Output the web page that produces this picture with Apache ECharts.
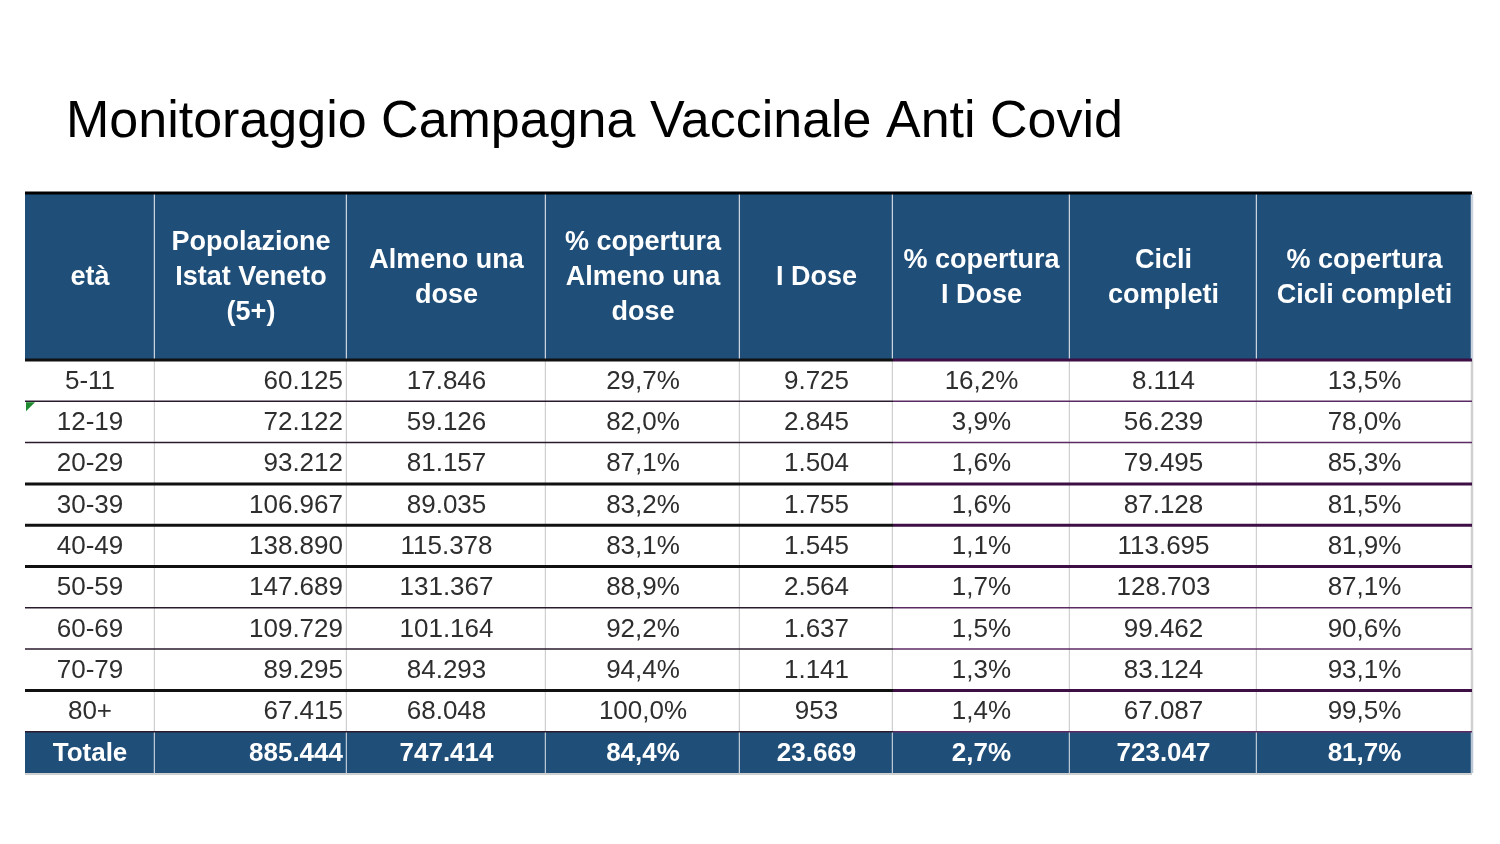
<!DOCTYPE html>
<html>
<head>
<meta charset="utf-8">
<script src="https://cdn.jsdelivr.net/npm/echarts@6/dist/echarts.min.js"></script>
<style>
html,body{margin:0;padding:0;background:#fff;}
#chart{width:1500px;height:844px;}
</style>
</head>
<body>
<div id="chart"></div>
<script>
// ---- DATA ----
const titleText = 'Monitoraggio Campagna Vaccinale Anti Covid';
const headers = [
  'età',
  'Popolazione\nIstat Veneto\n(5+)',
  'Almeno una\ndose',
  '% copertura\nAlmeno una\ndose',
  'I Dose',
  '% copertura\nI Dose',
  'Cicli\ncompleti',
  '% copertura\nCicli completi'
];
const ages = ['5-11', '12-19', '20-29', '30-39', '40-49', '50-59', '60-69', '70-79', '80+'];
const popolazione = [60125, 72122, 93212, 106967, 138890, 147689, 109729, 89295, 67415];
const almenoUnaDose = [17846, 59126, 81157, 89035, 115378, 131367, 101164, 84293, 68048];
const pctAlmenoUnaDose = [29.7, 82.0, 87.1, 83.2, 83.1, 88.9, 92.2, 94.4, 100.0];
const primaDose = [9725, 2845, 1504, 1755, 1545, 2564, 1637, 1141, 953];
const pctPrimaDose = [16.2, 3.9, 1.6, 1.6, 1.1, 1.7, 1.5, 1.3, 1.4];
const cicliCompleti = [8114, 56239, 79495, 87128, 113695, 128703, 99462, 83124, 67087];
const pctCicliCompleti = [13.5, 78.0, 85.3, 81.5, 81.9, 87.1, 90.6, 93.1, 99.5];
const totaleLabel = 'Totale';
const totale = [885444, 747414, 84.4, 23669, 2.7, 723047, 81.7];

// ---- LAYOUT / STYLE ----
const colEdges = [0, 130, 322, 521, 715, 868, 1045, 1232, 1447];
const headerH = 166;
const rowH = 41.3;
const nBody = ages.length;
const tableH = headerH + rowH * (nBody + 1);
const blue = '#1f4e79';
const FONT = '"Liberation Sans", Arial, sans-serif';
// rule index k = boundary below row k (0 header, 1..9 body)
const thickRules = [0, 3, 4, 5, 8];

function fmtInt(v) {
  return String(v).replace(/\B(?=(\d{3})+(?!\d))/g, '.');
}
function fmtPct(v) {
  return v.toFixed(1).replace('.', ',') + '%';
}
const isPct = [false, false, false, true, false, true, false, true];
const bodyCols = [null, popolazione, almenoUnaDose, pctAlmenoUnaDose, primaDose, pctPrimaDose, cicliCompleti, pctCicliCompleti];

function cellText(c, r) {
  if (r === 0) return headers[c];
  if (r === nBody + 1) {
    if (c === 0) return totaleLabel;
    const v = totale[c - 1];
    return isPct[c] ? fmtPct(v) : fmtInt(v);
  }
  if (c === 0) return ages[r - 1];
  const v = bodyCols[c][r - 1];
  return isPct[c] ? fmtPct(v) : fmtInt(v);
}
function rowTop(r) { return r === 0 ? 0 : headerH + (r - 1) * rowH; }
function rowBottom(r) { return r === 0 ? headerH : headerH + r * rowH; }

const cells = [];
for (let r = 0; r <= nBody + 1; r++) {
  for (let c = 0; c < headers.length; c++) cells.push([c, r]);
}
const rules = [];
for (let k = 0; k <= nBody; k++) rules.push([k]);

const chart = echarts.init(document.getElementById('chart'), null, { renderer: 'canvas' });

const option = {
  backgroundColor: '#ffffff',
  animation: false,
  title: {
    text: titleText,
    left: 61,
    top: 92,
    textStyle: { fontFamily: FONT, fontSize: 52, fontWeight: 'normal', color: '#000' }
  },
  grid: { left: 25, top: 194, width: colEdges[colEdges.length - 1], height: tableH },
  xAxis: { type: 'value', min: 0, max: colEdges[colEdges.length - 1], show: false },
  yAxis: { type: 'value', min: 0, max: tableH, inverse: true, show: false },
  series: [
    {
      type: 'custom',
      data: cells,
      z: 1,
      renderItem: function (params, api) {
        const c = api.value(0), r = api.value(1);
        const p0 = api.coord([colEdges[c], rowTop(r)]);
        const p1 = api.coord([colEdges[c + 1], rowBottom(r)]);
        const isHead = r === 0, isTot = r === nBody + 1;
        const fill = (isHead || isTot) ? blue : '#ffffff';
        const children = [{
          type: 'rect',
          shape: { x: p0[0], y: p0[1], width: p1[0] - p0[0], height: p1[1] - p0[1] },
          style: { fill: fill }
        }];
        // right border of cell
        children.push({
          type: 'line',
          shape: { x1: Math.round(p1[0]), y1: p0[1], x2: Math.round(p1[0]), y2: p1[1] },
          style: { stroke: isHead ? '#c9d3de' : (isTot ? '#b9c6d3' : '#d0d0d0'), lineWidth: 2.5 }
        });
        let tx, align;
        if (c === 1 && !isHead) { tx = p1[0] - 4; align = 'right'; }
        else { tx = (p0[0] + p1[0]) / 2; align = 'center'; }
        children.push({
          type: 'text',
          style: {
            text: cellText(c, r),
            x: tx,
            y: (p0[1] + p1[1]) / 2 + 1,
            align: align,
            verticalAlign: 'middle',
            fontFamily: FONT,
            fontSize: isHead ? 27 : 26,
            fontWeight: (isHead || isTot) ? 'bold' : 'normal',
            lineHeight: 35,
            fill: (isHead || isTot) ? '#ffffff' : '#2e2e2e'
          }
        });
        if (c === 0 && r === 2) {
          children.push({
            type: 'polygon',
            shape: { points: [[p0[0] + 1, p0[1] + 1], [p0[0] + 10, p0[1] + 1], [p0[0] + 1, p0[1] + 10]] },
            style: { fill: '#1e8c2e' }
          });
        }
        return { type: 'group', children: children };
      }
    },
    {
      type: 'custom',
      data: rules,
      z: 2,
      renderItem: function (params, api) {
        const k = api.value(0);
        const y = rowBottom(k);
        const a = api.coord([0, y]);
        const mid = api.coord([colEdges[5], y]);
        const b = api.coord([colEdges[colEdges.length - 1], y]);
        const thick = thickRules.indexOf(k) >= 0;
        const w = thick ? 3 : 1.5;
        return {
          type: 'group',
          children: [
            { type: 'line', shape: { x1: a[0], y1: a[1], x2: mid[0], y2: mid[1] },
              style: { stroke: thick ? '#111111' : '#2a1a2e', lineWidth: w } },
            { type: 'line', shape: { x1: mid[0], y1: mid[1], x2: b[0], y2: b[1] },
              style: { stroke: thick ? '#3d0f45' : '#5a2a62', lineWidth: w } }
          ]
        };
      }
    },
    {
      type: 'custom',
      data: [[0]],
      z: 3,
      renderItem: function (params, api) {
        const a = api.coord([0, 0]);
        const b = api.coord([colEdges[colEdges.length - 1], 0]);
        const c = api.coord([0, tableH]);
        const d = api.coord([colEdges[colEdges.length - 1], tableH]);
        return {
          type: 'group',
          children: [
            { type: 'line', shape: { x1: a[0], y1: a[1] - 1, x2: b[0], y2: b[1] - 1 }, style: { stroke: '#000', lineWidth: 3 } },
            { type: 'line', shape: { x1: c[0], y1: c[1] + 1, x2: d[0], y2: d[1] + 1 }, style: { stroke: '#cfcfcf', lineWidth: 2 } }
          ]
        };
      }
    }
  ]
};
chart.setOption(option);
</script>
</body>
</html>
